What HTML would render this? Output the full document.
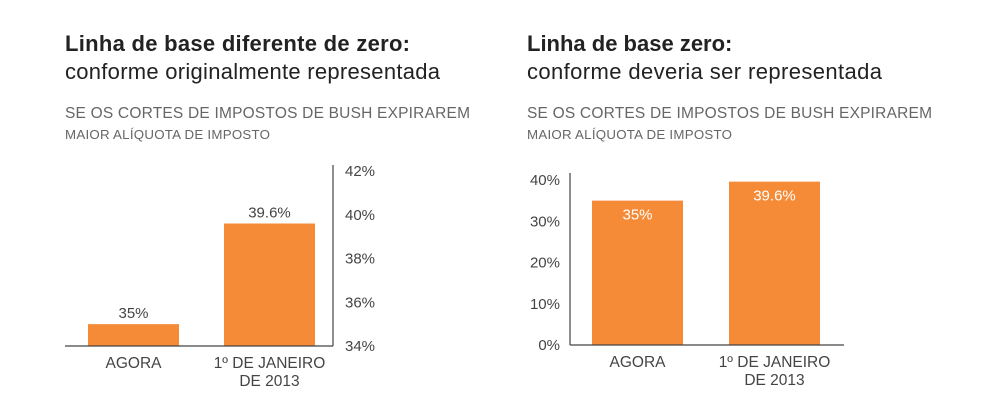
<!DOCTYPE html>
<html><head><meta charset="utf-8"><style>
body{margin:0;background:#fff;width:989px;height:402px;overflow:hidden;font-family:"Liberation Sans",sans-serif}
</style></head><body>
<svg id="chart" width="989" height="402" xmlns="http://www.w3.org/2000/svg" font-family="Liberation Sans, sans-serif">
<g>
<text x="65" y="51" font-size="22" font-weight="bold" fill="#222" textLength="345">Linha de base diferente de zero:</text>
<text x="65" y="79" font-size="22" fill="#222" textLength="375">conforme originalmente representada</text>
<text x="65" y="118" font-size="15.5" fill="#666" textLength="405">SE OS CORTES DE IMPOSTOS DE BUSH EXPIRAREM</text>
<text x="65" y="139" font-size="13.3" fill="#666" textLength="205">MAIOR ALÍQUOTA DE IMPOSTO</text>
</g>
<g>
<text x="527" y="51" font-size="22" font-weight="bold" fill="#222">Linha de base zero:</text>
<text x="527" y="79" font-size="22" fill="#222" textLength="355">conforme deveria ser representada</text>
<text x="527" y="118" font-size="15.5" fill="#666" textLength="405">SE OS CORTES DE IMPOSTOS DE BUSH EXPIRAREM</text>
<text x="527" y="139" font-size="13.3" fill="#666" textLength="205">MAIOR ALÍQUOTA DE IMPOSTO</text>
</g>
<g id="left"></g>
<g id="right"></g>
</svg>
<script>
const categories = ["AGORA", "1º DE JANEIRO|DE 2013"];
const values = [35, 39.6];
const valueLabels = ["35%", "39.6%"];
const leftTicks = [34, 36, 38, 40, 42];
const rightTicks = [0, 10, 20, 30, 40];
const NS = "http://www.w3.org/2000/svg";
const ORANGE = "#F68B37";
function mk(parent, tag, attrs, text){
  const e = document.createElementNS(NS, tag);
  for (const k in attrs) e.setAttribute(k, attrs[k]);
  if (text !== undefined) e.textContent = text;
  parent.appendChild(e); return e;
}
function draw(g, cfg){
  const y = v => cfg.base - (v - cfg.min) / (cfg.max - cfg.min) * cfg.h;
  const bx = i => cfg.barX[i];
  values.forEach((v, i) => {
    const r = mk(g, "rect", {x: bx(i), y: y(v), width: cfg.bw, height: cfg.base - y(v), fill: ORANGE});
    
    
    const ty = cfg.inside ? y(v) + 19 : y(v) - 6;
    const t = mk(g, "text", {x: bx(i) + cfg.bw/2, y: ty, "text-anchor": "middle", "font-size": 15, fill: cfg.inside ? "#fff" : "#444"}, valueLabels[i]);
    
    
    const parts = categories[i].split("|");
    parts.forEach((p, j) => {
      const c = mk(g, "text", {x: bx(i) + cfg.bw/2, y: cfg.base + 22 + j*18, "text-anchor": "middle", "font-size": 15.5, fill: "#444"}, p);
      
      
    });
  });
  cfg.ticks.forEach(t => {
    const tx = mk(g, "text", {x: cfg.tickX, y: y(t) + 5, "text-anchor": cfg.anchor, "font-size": 15, fill: "#444"}, t + "%");
    
    
  });
  const ax = mk(g, "line", {x1: cfg.axisX, x2: cfg.axisX, y1: cfg.axisTop, y2: cfg.base, stroke: "#444", "stroke-width": 1.2});
  
  
  const bl = mk(g, "line", {x1: cfg.baseX1, x2: cfg.baseX2, y1: cfg.base, y2: cfg.base, stroke: "#444", "stroke-width": 1.2});
  
  
}
draw(document.getElementById("left"), {min:34, max:42, base:346, h:175, barX:[88,224], bw:91, ticks:leftTicks, tickX:345, anchor:"start", axisX:333, axisTop:165, baseX1:65, baseX2:333, inside:false});
draw(document.getElementById("right"), {min:0, max:40, base:345, h:165, barX:[592,729], bw:91, ticks:rightTicks, tickX:560, anchor:"end", axisX:570, axisTop:173, baseX1:570, baseX2:844, inside:true});
</script>
</body></html>
